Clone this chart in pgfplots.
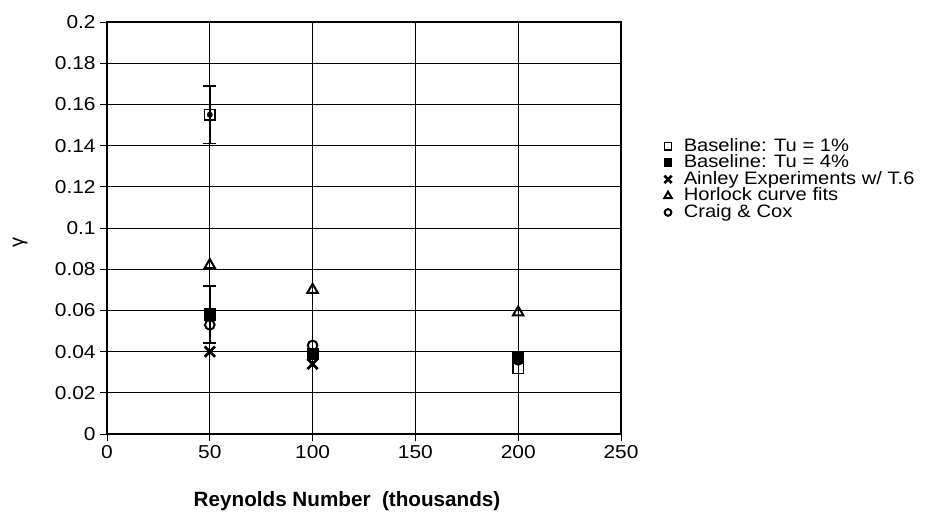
\documentclass[border=0pt]{standalone}
\usepackage{fontspec}
\setmainfont{Liberation Sans}
\newfontfamily\widefont[FakeStretch=1.12]{Liberation Sans}
\newfontfamily\legfont[FakeStretch=1.12]{Liberation Sans}
\usepackage{pgfplots}
\pgfplotsset{compat=1.18}

% 1 reference pixel = 0.75pt
\def\px{0.75pt}

\begin{document}
\begin{tikzpicture}
\useasboundingbox (-107*\px,-81*\px) rectangle (829*\px,434*\px);
\begin{axis}[
    scale only axis,
    width=514*\px, height=412*\px,
    xmin=0, xmax=250, ymin=0, ymax=0.2,
    xtick={0,50,...,250},
    ytick={0,0.02,...,0.2},
    grid=major,
    major grid style={black, line width=0.6pt},
    axis line style={black, line width=0.9pt},
    tick align=outside,
    xtick pos=left, ytick pos=left,
    major tick length=5pt,
    tick style={black, line width=0.6pt},
    /pgf/number format/assume math mode=true,
    /pgf/number format/fixed,
    /pgf/number format/precision=2,
    xticklabel style={font=\widefont\fontsize{14}{16}\selectfont},
    yticklabel style={font=\widefont\fontsize{14}{16}\selectfont},
    xlabel={\textbf{Reynolds Number\ \ (thousands)}},
    xlabel style={font=\fontsize{15.5}{17}\selectfont,
        at={(axis description cs:0.467,-0.177)}, anchor=base},
    ylabel={γ},
    ylabel style={font=\fontsize{15}{16}\selectfont,
        at={(axis description cs:-0.169,0.464)}, anchor=center},
    legend cell align=left,
    legend style={draw=none, fill=none, at={(axis description cs:1.0837,0.719)}, anchor=north west,
        font=\legfont\fontsize{13.5}{15}\selectfont, row sep=0pt, column sep=9pt,
        inner sep=0pt, nodes={inner sep=0pt, text height=10pt, text depth=2.4pt}},
    legend image post style={scale=0.7},
    legend image code/.code={\draw[#1] plot coordinates {(0cm,0cm)};},
]
% Baseline Tu = 1%
\addplot[only marks, mark=square, mark size=4pt, mark options={fill=white, line width=1.1pt}]
    coordinates {(50,0.155) (100,0.039) (200,0.032)};
\addlegendentry{Baseline: Tu = 1\%}
% Baseline Tu = 4%
\addplot[only marks, mark=square*, mark size=4pt, mark options={fill=black, line width=1.1pt}]
    coordinates {(50,0.058) (100,0.039) (200,0.037)};
\addlegendentry{Baseline: Tu = 4\%}
% Ainley
\addplot[only marks, mark=x, mark size=5.5pt, mark options={line width=2pt}]
    coordinates {(50,0.040) (100,0.034)};
\addlegendentry{Ainley Experiments w/ T.6}
% Horlock
\addplot[only marks, mark=triangle, mark size=4.5pt, mark options={fill=white, line width=1.5pt}]
    coordinates {(50,0.082) (100,0.070) (200,0.059)};
\addlegendentry{Horlock curve fits}
% Craig & Cox
\addplot[only marks, mark=o, mark size=3.6pt, mark options={fill=white, line width=1.5pt}]
    coordinates {(50,0.053) (100,0.043) (200,0.036)};
\addlegendentry{Craig \& Cox}
% error bars at Re = 50k (drawn over the markers)
\addplot[forget plot, only marks, mark=none,
    error bars/.cd, y dir=both, y explicit,
    error bar style={draw=black, line width=1.5pt},
    error mark options={rotate=90, mark size=5pt, line width=1.4pt, draw=black}]
    coordinates {(50,0.155) +- (0,0.014) (50,0.058) +- (0,0.014)};
\end{axis}
\end{tikzpicture}
\end{document}
